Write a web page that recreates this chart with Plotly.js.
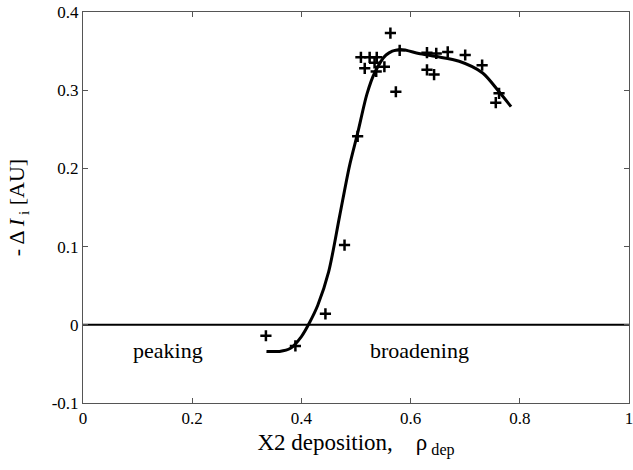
<!DOCTYPE html>
<html><head><meta charset="utf-8">
<script src="https://cdn.plot.ly/plotly-3.0.1.min.js"></script>
<style>body{margin:0;background:#fff}</style>
</head><body>
<div id="chart" style="width:633px;height:470px"></div>
<script>
const dataX = [0.335,0.389,0.444,0.479,0.503,0.509,0.525,0.538,0.516,0.534,0.537,0.552,0.563,0.580,0.573,0.630,0.647,0.668,0.700,0.731,0.630,0.643,0.762,0.756];
const dataY = [-0.014,-0.027,0.014,0.102,0.241,0.342,0.342,0.342,0.328,0.335,0.324,0.330,0.373,0.351,0.298,0.348,0.347,0.349,0.345,0.332,0.326,0.320,0.296,0.284];
const fitX = [0.336,0.360,0.380,0.400,0.415,0.430,0.450,0.470,0.488,0.503,0.520,0.534,0.555,0.580,0.615,0.647,0.689,0.732,0.762,0.784];
const fitY = [-0.034,-0.034,-0.030,-0.015,0.003,0.025,0.068,0.139,0.203,0.245,0.295,0.322,0.345,0.352,0.347,0.343,0.337,0.322,0.298,0.279];
const zeroX = [0, 1];
const zeroY = [0, 0];
const labels = ["peaking", "broadening"];
const labelX = [0.155, 0.617];
const labelY = [-0.033, -0.033];

const serif = "Liberation Serif, Times New Roman, serif";
const traces = [
  {x: zeroX, y: zeroY, mode: 'lines', line: {color: '#000', width: 2}, hoverinfo: 'skip'},
  {x: fitX, y: fitY, mode: 'lines', line: {color: '#000', width: 3, shape: 'spline', smoothing: 0.8}},
  {x: dataX, y: dataY, mode: 'markers', marker: {symbol: 'cross-thin', size: 8, line: {color: '#000', width: 2.5}}}
];
const layout = {
  width: 633, height: 470,
  margin: {l: 83, r: 4, t: 12, b: 67},
  showlegend: false,
  paper_bgcolor: '#fff', plot_bgcolor: '#fff',
  font: {family: serif, color: '#000', size: 17},
  xaxis: {
    range: [0, 1], tickvals: [0, 0.2, 0.4, 0.6, 0.8, 1], ticktext: ['0','0.2','0.4','0.6','0.8','1'],
    ticks: 'inside', ticklen: 5, tickcolor: '#555', showgrid: false, zeroline: false,
    showline: true, linecolor: '#555', linewidth: 1, mirror: 'ticks',
    tickfont: {family: serif, size: 17}, ticklabeloverflow: 'allow',
    title: {text: 'X2 deposition,    ρ<sub> dep</sub>', font: {family: serif, size: 23}, standoff: 6}
  },
  yaxis: {
    range: [-0.1, 0.4], tickvals: [-0.1, 0, 0.1, 0.2, 0.3, 0.4], ticktext: ['-0.1','0','0.1','0.2','0.3','0.4'],
    ticks: 'inside', ticklen: 5, tickcolor: '#555', showgrid: false, zeroline: false,
    showline: true, linecolor: '#555', linewidth: 1, mirror: 'ticks',
    tickfont: {family: serif, size: 17}, ticklabeloverflow: 'allow',
    title: {text: '- Δ <i>I</i><sub> i</sub> [AU]', font: {family: serif, size: 22}, standoff: 20}
  },
  annotations: labels.map((t, i) => ({x: labelX[i], y: labelY[i], text: t, showarrow: false, font: {family: serif, size: 22, color: '#000'}}))
};
Plotly.newPlot('chart', traces, layout, {displayModeBar: false, staticPlot: true});
</script>
</body></html>
